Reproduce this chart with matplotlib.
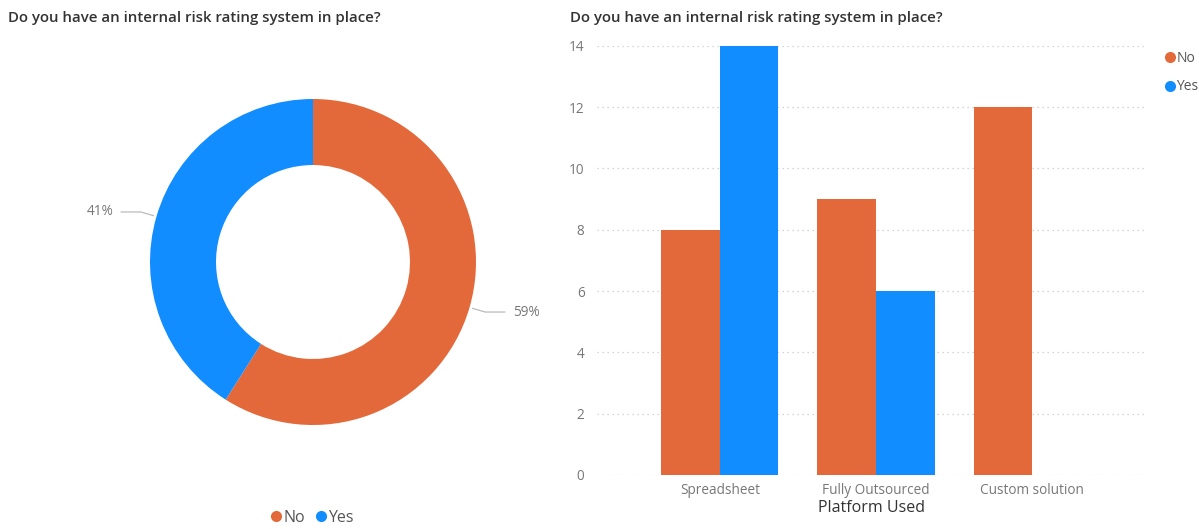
import matplotlib
matplotlib.use("Agg")
import matplotlib.pyplot as plt
import numpy as np
from matplotlib.lines import Line2D

plt.rcParams["font.family"] = ["Open Sans", "DejaVu Sans"]

title = "Do you have an internal risk rating system in place?"
answers = ["No", "Yes"]
share = [59, 41]
platforms = ["Spreadsheet", "Fully Outsourced", "Custom solution"]
count_no = [8, 9, 12]
count_yes = [14, 6, np.nan]
yticks = [0, 2, 4, 6, 8, 10, 12, 14]

ORANGE = "#E3693A"
BLUE = "#118DFF"
W, H = 1199, 529

fig = plt.figure(figsize=(W / 100, H / 100), dpi=100)

fig.text(8 / W, 1 - 18 / H, title, fontsize=10.8, fontweight="semibold",
         color="#333333", va="center", ha="left")
fig.text(570 / W, 1 - 18 / H, title, fontsize=10.8, fontweight="semibold",
         color="#333333", va="center", ha="left")

# donut
cx, cy, R = 313, 262, 163
half = 200
axd = fig.add_axes([(cx - half) / W, (H - cy - half) / H, 2 * half / W, 2 * half / H])
lim = half / R
wedges, _ = axd.pie(share, colors=[ORANGE, BLUE], startangle=90, counterclock=False,
                    radius=1, wedgeprops=dict(width=0.405, linewidth=0))
axd.set_xlim(-lim, lim)
axd.set_ylim(-lim, lim)
axd.set_aspect("equal")
axd.axis("off")
for w, v in zip(wedges, share):
    ang = np.deg2rad((w.theta1 + w.theta2) / 2)
    ca, sa = np.cos(ang), np.sin(ang)
    sgn = 1 if ca > 0 else -1
    p0 = (1.02 * ca, 1.02 * sa)
    p1 = (1.1 * ca, 1.1 * sa)
    p2 = (p1[0] + sgn * 0.12, p1[1])
    axd.plot([p0[0], p1[0], p2[0]], [p0[1], p1[1], p2[1]], color="#BBBBBB", lw=0.9)
    axd.text(p2[0] + sgn * 0.05, p2[1], f"{v}%", fontsize=9.8, color="#777777",
             ha="left" if sgn > 0 else "right", va="center")

dot = lambda c: Line2D([], [], marker="o", ls="", markersize=8, markerfacecolor=c,
                       markeredgewidth=0)
fig.legend([dot(ORANGE), dot(BLUE)], answers, loc="center", ncol=2,
           bbox_to_anchor=(312 / W, 1 - 518 / H), frameon=False, fontsize=11.5,
           handletextpad=0.05, columnspacing=0.6, handlelength=0.8, labelcolor="#555555")

# bars
ax = fig.add_axes([597 / W, (H - 475) / H, (1145 - 597) / W, (475 - 45.7) / H])
x = np.arange(len(platforms))
bw = 0.375
ax.bar(x - bw / 2, count_no, bw, color=ORANGE, linewidth=0)
yes = np.array(count_yes, dtype=float)
m = ~np.isnan(yes)
ax.bar(x[m] + bw / 2, yes[m], bw, color=BLUE, linewidth=0)
ax.set_xlim(-0.788, 2.724)
ax.set_ylim(0, 14)
ax.set_yticks(yticks)
ax.set_xticks(x)
ax.set_xticklabels(platforms)
for s in ax.spines.values():
    s.set_visible(False)
ax.yaxis.grid(True, linestyle=(0, (1, 3)), color="#C8C8C8", lw=0.9)
ax.set_axisbelow(True)
ax.tick_params(axis="both", length=0, labelsize=9.8, labelcolor="#777777")
ax.tick_params(axis="y", pad=9)
ax.tick_params(axis="x", pad=6)
ax.set_xlabel("Platform Used", fontsize=11.5, color="#333333", labelpad=1)

fig.legend([dot(ORANGE), dot(BLUE)], answers, loc="upper left",
           bbox_to_anchor=(1152 / W, 1 - 38 / H), frameon=False, fontsize=10,
           handletextpad=0.05, handlelength=0.8, labelspacing=1.0, labelcolor="#555555")

fig.savefig("out.png", dpi=100)
